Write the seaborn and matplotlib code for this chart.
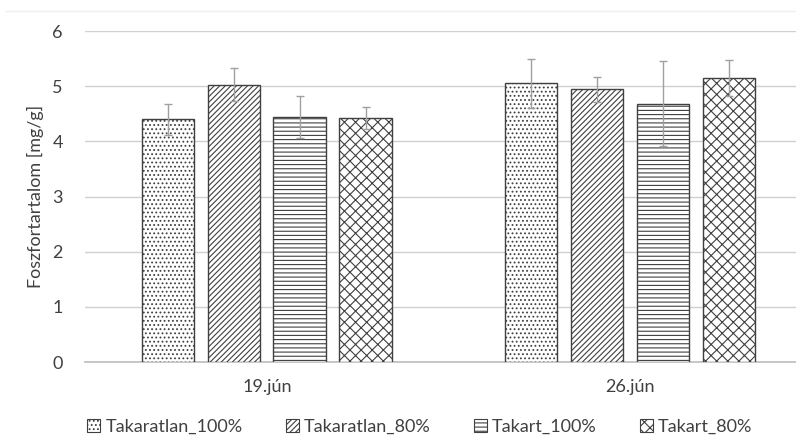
import numpy as np
import pandas as pd
import matplotlib.pyplot as plt
from matplotlib.lines import Line2D
import seaborn as sns

dates = ["19.jún", "26.jún"]
treatments = ["Takaratlan_100%", "Takaratlan_80%", "Takart_100%", "Takart_80%"]
means = {
    "Takaratlan_100%": [4.40, 5.05],
    "Takaratlan_80%": [5.03, 4.94],
    "Takart_100%": [4.44, 4.68],
    "Takart_80%": [4.42, 5.15],
}
errors = {
    "Takaratlan_100%": [0.28, 0.45],
    "Takaratlan_80%": [0.30, 0.22],
    "Takart_100%": [0.38, 0.77],
    "Takart_80%": [0.20, 0.33],
}
hatches = ["....", "//////", "----", "xxx"]

rows = []
for t in treatments:
    for i, d in enumerate(dates):
        rows.append({"date": d, "treatment": t, "value": means[t][i], "err": errors[t][i]})
df = pd.DataFrame(rows)

sns.set_theme(style="white")
plt.rcParams["font.family"] = ["Lato", "DejaVu Sans"]
plt.rcParams["hatch.linewidth"] = 0.8
plt.rcParams["hatch.color"] = "#404040"

fig = plt.figure(figsize=(7.96, 4.44), dpi=100)
# plot area runs off the right edge, like the cropped original
ax = fig.add_axes([85 / 796, 82 / 444, (796 - 85) / 796, 331 / 444])

sns.barplot(
    data=df, x="date", y="value", hue="treatment", order=dates, hue_order=treatments,
    errorbar=None, width=0.727, gap=0.2, ax=ax,
    palette=["white"] * 4, edgecolor="#404040", linewidth=1.0, zorder=3,
)
ax.get_legend().remove()

for k, (container, t) in enumerate(zip(ax.containers, treatments)):
    xs = []
    for bar in container:
        bar.set_hatch(hatches[k])
        xs.append(bar.get_x() + bar.get_width() / 2)
    ax.errorbar(xs, means[t], yerr=errors[t], fmt="none", ecolor="#a0a0a0",
                elinewidth=1.0, capsize=3, capthick=1.0, zorder=4)

ax.set_xlim(-0.501, 1 + (796 - 630) / 363)
ax.set_ylim(0, 6)
ax.set_yticks(range(0, 7))
ax.yaxis.grid(True, color="#d0d0d0", linewidth=1.0, zorder=0)
ax.set_axisbelow(True)
for s in ["top", "right", "left"]:
    ax.spines[s].set_visible(False)
ax.spines["bottom"].set_color("#c0c0c0")
ax.tick_params(axis="y", length=0, labelsize=13, colors="#404040", pad=16)
ax.tick_params(axis="x", length=0, labelsize=13, colors="#404040", pad=12)
ax.set_xlabel("")
ax.set_ylabel("Foszfortartalom [mg/g]", fontsize=13, color="#404040", labelpad=6)

handles = [plt.Rectangle((0, 0), 1, 1, facecolor="white", edgecolor="#404040",
                         linewidth=0.8, hatch=h) for h in hatches]
fig.legend(handles, treatments, loc="center", bbox_to_anchor=(420 / 796, 1 - 427 / 444), ncol=4,
           frameon=False, fontsize=13, handlelength=0.7, handleheight=0.7,
           handletextpad=0.3, columnspacing=2.4, labelcolor="#404040")

fig.add_artist(Line2D([0.007, 1.0], [1 - 11 / 444] * 2, color="#eeeeee", linewidth=1.0))

fig.savefig("out.png", dpi=100)
